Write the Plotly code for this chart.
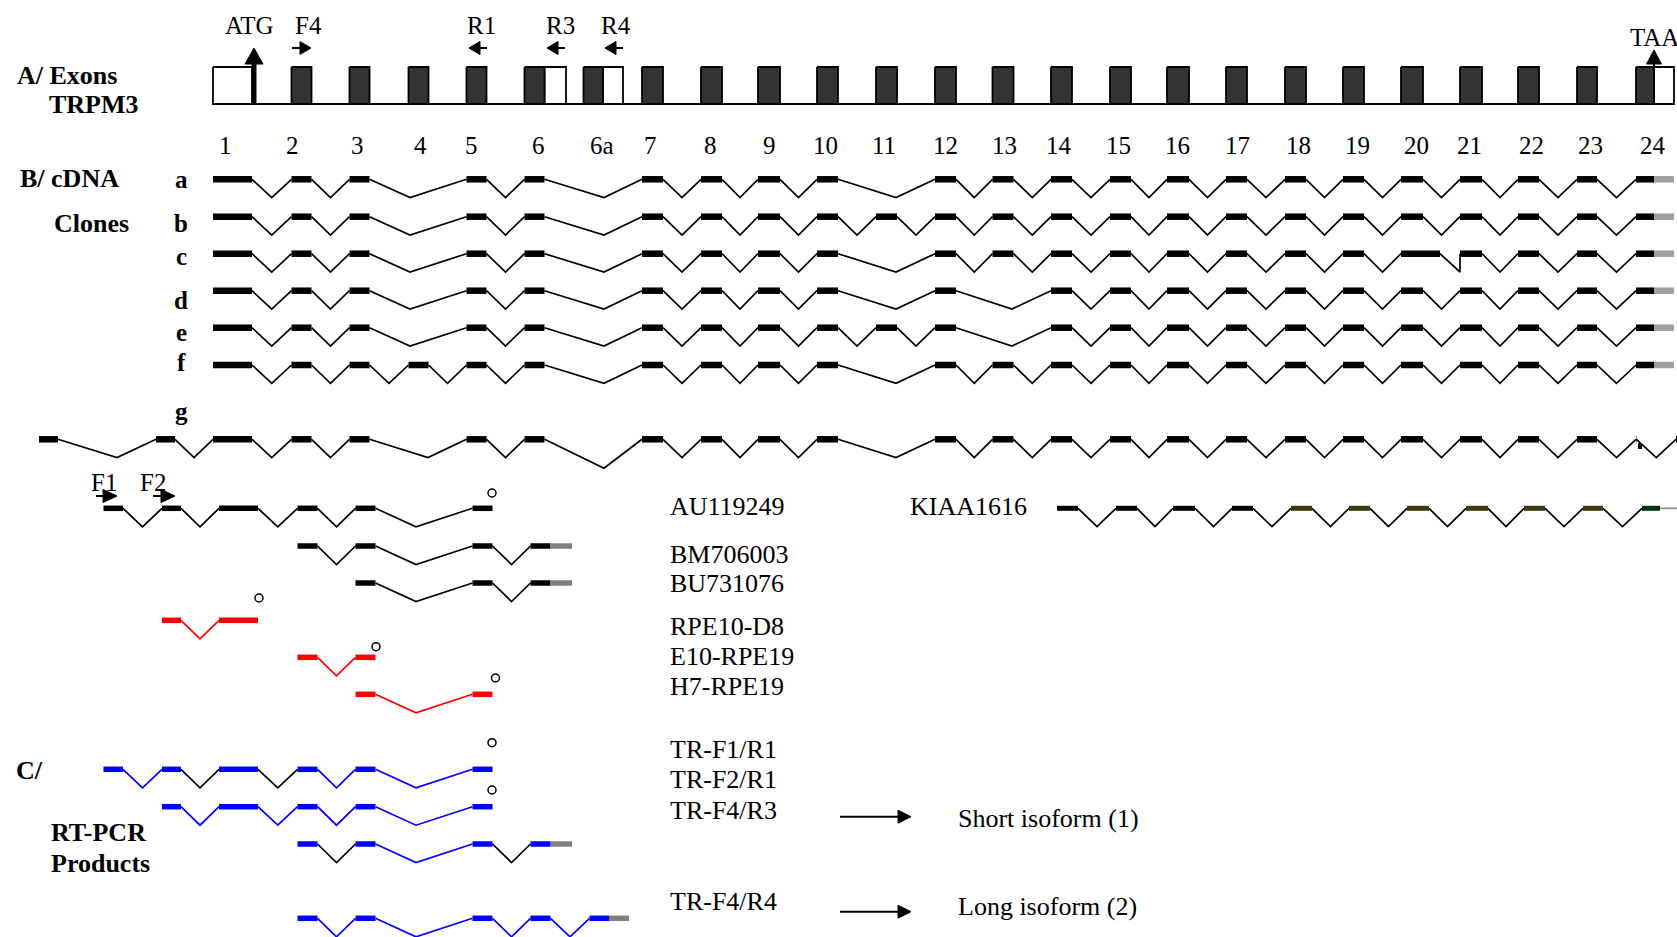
import plotly.graph_objects as go

FONT = "Liberation Serif, Times New Roman, serif"

# ---------------- Section A: exon map (positions along the gene, px) ----------------
EXON_NAMES = ["1", "2", "3", "4", "5", "6", "6a", "7", "8", "9", "10", "11", "12", "13",
              "14", "15", "16", "17", "18", "19", "20", "21", "22", "23", "24"]
EXON_START = [213, 291.5, 349.5, 408.5, 466.5, 524.5, 583.5, 642, 701, 758, 817, 876, 935,
              992.5, 1051, 1110, 1167, 1226, 1285, 1343, 1401, 1460, 1518, 1577, 1636]
CODING_END = [213, 311.5, 369.5, 428.5, 486.5, 544.5, 603, 663, 722, 780, 838, 897, 956,
              1013.5, 1072, 1131, 1189, 1247, 1306, 1364, 1423, 1482, 1539, 1597, 1654]
EXON_END = [252, 311.5, 369.5, 428.5, 486.5, 566, 623, 663, 722, 780, 838, 897, 956,
            1013.5, 1072, 1131, 1189, 1247, 1306, 1364, 1423, 1482, 1539, 1597, 1674]
EXON_LABEL_X = [225, 292, 357, 420, 471, 538, 602, 650, 710, 769, 825, 884, 945, 1004,
                1059, 1118, 1177, 1237, 1298, 1357, 1416, 1469, 1531, 1590, 1653]
BOX_TOP, BOX_BOTTOM, EXON_LABEL_Y = 67, 104, 145

# extra exons (upstream exons / variants)
EXTRA_NAMES = ["U1", "U2", "U3", "20x", "24g", "X"]
EXTRA_START = [39, 97.5, 156, 1401, 1636, 1676]
EXTRA_END = [58, 117, 175, 1440, 1636.5, 1720]

# primers on exon map
PRIMER_NAMES = ["F4", "R1", "R3", "R4"]
PRIMER_TAIL_X = [292, 487, 565, 623]
PRIMER_TIP_X = [311, 469, 547, 605]
PRIMER_LABEL_X = [308, 481, 560, 616]
PRIMER_Y, PRIMER_LABEL_Y = 48, 25
ATG_X, TAA_X = 254, 1654

# ---------------- Section B: cDNA clones ----------------
CLONE_NAMES = ["a", "b", "c", "d", "e", "f", "g"]
CLONE_Y = [179.3, 216.7, 253.7, 290.7, 327.7, 365, 439.3]
CLONE_LABEL_Y = [179, 223, 256.5, 300, 332.5, 362, 411.5]
CLONE_EXONS = [
    ["1", "2", "3", "5", "6", "7", "8", "9", "10", "12", "13", "14", "15", "16", "17", "18", "19", "20", "21", "22", "23", "24"],
    ["1", "2", "3", "5", "6", "7", "8", "9", "10", "11", "12", "13", "14", "15", "16", "17", "18", "19", "20", "21", "22", "23", "24"],
    ["1", "2", "3", "5", "6", "7", "8", "9", "10", "12", "13", "14", "15", "16", "17", "18", "19", "20x", "21", "22", "23", "24"],
    ["1", "2", "3", "5", "6", "7", "8", "9", "10", "12", "14", "15", "16", "17", "18", "19", "20", "21", "22", "23", "24"],
    ["1", "2", "3", "5", "6", "7", "8", "9", "10", "11", "12", "14", "15", "16", "17", "18", "19", "20", "21", "22", "23", "24"],
    ["1", "2", "3", "4", "5", "6", "7", "8", "9", "10", "12", "13", "14", "15", "16", "17", "18", "19", "20", "21", "22", "23", "24"],
    ["U1", "U3", "1", "2", "3", "5", "6", "7", "8", "9", "10", "12", "13", "14", "15", "16", "17", "18", "19", "20", "21", "22", "23", "24g", "X"],
]
CLONE_TAIL = [True, True, True, True, True, True, False]
# where the skip-introns dip (gene coordinates)
SKIP_VALLEY_X = {("3", "5"): 410, ("6", "7"): 604, ("10", "12"): 896, ("12", "14"): 1012,
                 ("U1", "U3"): 117}
VALLEY_X_OVERRIDE = {("c", "20x"): 1460, ("g", "3"): 428}
VALLEY_DEPTH_OVERRIDE = {("g", "6"): 29}
G_MARK_X, G_MARK_Y = [1640, 1640], [443, 449]

# ---------------- ESTs, clones and RT-PCR products ----------------
LOWER_SHIFT = 6
LOWER_NAMES = ["AU119249", "BM706003", "BU731076", "RPE10-D8", "E10-RPE19", "H7-RPE19",
               "TR-F1/R1", "TR-F2/R1", "TR-F4/R3", "TR-F4/R4"]
LOWER_Y = [508.3, 546, 583, 620.3, 657.3, 694.3, 769.3, 806.7, 844, 918.3]
LOWER_LABEL_Y = [506.5, 554.5, 583.5, 626, 656, 686.5, 749.5, 779.5, 810, 901.5]
LOWER_EXONS = [
    ["U2", "U3", "1", "2", "3", "5"],
    ["2", "3", "5", "6"],
    ["3", "5", "6"],
    ["U3", "1"],
    ["2", "3"],
    ["3", "5"],
    ["U2", "U3", "1", "2", "3", "5"],
    ["U3", "1", "2", "3", "5"],
    ["2", "3", "5", "6"],
    ["2", "3", "5", "6", "6a"],
]
LOWER_COLOR = ["#000000", "#000000", "#000000", "#ff0000", "#ff0000", "#ff0000",
               "#0000ff", "#0000ff", "#0000ff", "#0000ff"]
LOWER_INTRON_COLORS = [
    None, None, None, None, None, None,
    ["#0000ff", "#000000", "#000000", "#0000ff", "#0000ff"],
    None,
    ["#000000", "#0000ff", "#000000"],
    None,
]
LOWER_TAIL = [False, True, True, False, False, False, False, False, True, True]
LABEL_X = 668
CIRCLE_X = [492, 259, 376, 495.5, 492, 492]
CIRCLE_Y = [493, 598, 646.7, 678, 742.7, 790]

# lower primers
LOW_PRIMERS = ["F1", "F2"]
LOW_PRIMER_TAIL_X = [96, 153]
LOW_PRIMER_TIP_X = [117, 175]
LOW_PRIMER_LABEL_X = [104, 153]
LOW_PRIMER_Y, LOW_PRIMER_LABEL_Y = 496, 482

# KIAA1616
KIAA_EXONS = ["14", "15", "16", "17", "18", "19", "20", "21", "22", "23", "24"]
KIAA_COLORS = ["#000000"] * 4 + ["#3b3a0c"] * 6 + ["#00330f"]
KIAA_Y = 508.3
KIAA_LABEL_X = 908
KIAA_TAIL_END = 1690

# isoform arrows
ISO_Y = [816.7, 911.7]
ISO_TEXT = ["Short isoform (1)", "Long isoform (2)"]
ISO_TEXT_Y = [818, 906]
ISO_ARROW_X0, ISO_ARROW_X1, ISO_TEXT_X = 840, 911, 956

# section titles
SECTION_TEXT = ["A/ Exons", "TRPM3", "B/ cDNA", "Clones", "C/", "RT-PCR", "Products"]
SECTION_X = [15, 47, 18, 52, 14, 49, 49]
SECTION_Y = [75, 104, 178, 223, 770, 832, 863]

# ------------------------------------------------------------------
intron_groups = {}
bar_groups = {}
tri_x, tri_y = [], []


def add_seg(groups, key, xs, ys):
    gx, gy = groups.setdefault(key, ([], []))
    gx.extend(list(xs) + [None])
    gy.extend(list(ys) + [None])


def exon_span(name):
    if name in EXTRA_NAMES:
        i = EXTRA_NAMES.index(name)
        return EXTRA_START[i], EXTRA_END[i]
    i = EXON_NAMES.index(name)
    if name == "1":
        return EXON_START[i], EXON_END[i]
    return EXON_START[i], CODING_END[i]


def draw_transcript(row, exons, y, shift, bar_colors, intron_colors, bar_w, depth,
                    tail=False, tail_color="#999999"):
    spans = [exon_span(e) for e in exons]
    for k in range(len(spans) - 1):
        x0 = spans[k][1] + shift
        x1 = spans[k + 1][0] + shift
        key = (row, exons[k])
        if key in VALLEY_X_OVERRIDE:
            xm = VALLEY_X_OVERRIDE[key]
        elif (exons[k], exons[k + 1]) in SKIP_VALLEY_X:
            xm = SKIP_VALLEY_X[(exons[k], exons[k + 1])] + shift
        else:
            xm = (x0 + x1) / 2
        d = VALLEY_DEPTH_OVERRIDE.get(key, depth)
        add_seg(intron_groups, (intron_colors[k], 1.7), [x0, xm, x1], [y, y + d, y])
    for k, (s, e) in enumerate(spans):
        add_seg(bar_groups, (bar_colors[k], bar_w), [s + shift, e + shift], [y, y])
    if tail:
        i = EXON_NAMES.index(exons[-1])
        add_seg(bar_groups, (tail_color, bar_w), [CODING_END[i] + shift, EXON_END[i] + shift], [y, y])


def add_triangle(pts):
    for px, py in pts + [pts[0]]:
        tri_x.append(px)
        tri_y.append(py)
    tri_x.append(None)
    tri_y.append(None)


fig = go.Figure()
annotations = []


def text(t, x, y, size, bold=False, anchor="left", color="#000000"):
    annotations.append(dict(
        x=x, y=y, xref="x", yref="y", text=("<b>%s</b>" % t) if bold else t,
        showarrow=False, xanchor=anchor, yanchor="middle",
        font=dict(family=FONT, size=size, color=color)))


# ---- Section A ----
fig.add_trace(go.Scatter(x=[EXON_START[0], EXON_END[-1]], y=[BOX_BOTTOM, BOX_BOTTOM], mode="lines",
                         line=dict(color="#000000", width=2.2), hoverinfo="skip"))
ox, oy, dx, dy = [], [], [], []
for i, n in enumerate(EXON_NAMES):
    if CODING_END[i] > EXON_START[i]:
        s, e = EXON_START[i], CODING_END[i]
        dx += [s, e, e, s, s, None]
        dy += [BOX_TOP, BOX_TOP, BOX_BOTTOM, BOX_BOTTOM, BOX_TOP, None]
    if EXON_END[i] > CODING_END[i]:
        s, e = CODING_END[i], EXON_END[i]
        ox += [s, e, e, s, s, None]
        oy += [BOX_TOP, BOX_TOP, BOX_BOTTOM, BOX_BOTTOM, BOX_TOP, None]
    text(n, EXON_LABEL_X[i], EXON_LABEL_Y, 25, anchor="center")
fig.add_trace(go.Scatter(x=ox, y=oy, mode="lines", fill="toself", fillcolor="#ffffff",
                         line=dict(color="#000000", width=1.8), hoverinfo="skip"))
fig.add_trace(go.Scatter(x=dx, y=dy, mode="lines", fill="toself", fillcolor="#333333",
                         line=dict(color="#000000", width=1.8), hoverinfo="skip"))

# ATG / TAA arrows
fig.add_trace(go.Scatter(x=[ATG_X, ATG_X], y=[BOX_BOTTOM, 62], mode="lines",
                         line=dict(color="#000000", width=5), hoverinfo="skip"))
add_triangle([(ATG_X - 9, 64), (ATG_X + 9, 64), (ATG_X, 48)])
fig.add_trace(go.Scatter(x=[TAA_X, TAA_X], y=[BOX_BOTTOM, 62], mode="lines",
                         line=dict(color="#000000", width=2), hoverinfo="skip"))
add_triangle([(TAA_X - 7.5, 64), (TAA_X + 7.5, 64), (TAA_X, 50)])
text("ATG", 249, PRIMER_LABEL_Y, 25, anchor="center")
text("TAA", 1628, 37, 25, anchor="left")

prim_x, prim_y = [], []
for i, n in enumerate(PRIMER_NAMES):
    tail, tip = PRIMER_TAIL_X[i], PRIMER_TIP_X[i]
    base = tip - 11 if tip > tail else tip + 11
    prim_x += [tail, base, None]
    prim_y += [PRIMER_Y, PRIMER_Y, None]
    add_triangle([(base, PRIMER_Y - 6.5), (base, PRIMER_Y + 6.5), (tip, PRIMER_Y)])
    text(n, PRIMER_LABEL_X[i], PRIMER_LABEL_Y, 25, anchor="center")
for i, n in enumerate(LOW_PRIMERS):
    tail, tip = LOW_PRIMER_TAIL_X[i], LOW_PRIMER_TIP_X[i]
    base = tip - 14
    prim_x += [tail, base, None]
    prim_y += [LOW_PRIMER_Y, LOW_PRIMER_Y, None]
    add_triangle([(base, LOW_PRIMER_Y - 6.5), (base, LOW_PRIMER_Y + 6.5), (tip, LOW_PRIMER_Y)])
    text(n, LOW_PRIMER_LABEL_X[i], LOW_PRIMER_LABEL_Y, 25, anchor="center")

# ---- Section B ----
for r, row in enumerate(CLONE_NAMES):
    ex = CLONE_EXONS[r]
    draw_transcript(row, ex, CLONE_Y[r], 0, ["#000000"] * len(ex), ["#000000"] * (len(ex) - 1),
                    6.5, 18.3, tail=CLONE_TAIL[r], tail_color="#a0a0a0")
    text(row, 181, CLONE_LABEL_Y[r], 25, bold=True, anchor="center")
add_seg(bar_groups, ("#000000", 4), G_MARK_X, G_MARK_Y)

# ---- ESTs / RT-PCR ----
for r, name in enumerate(LOWER_NAMES):
    ex = LOWER_EXONS[r]
    ic = LOWER_INTRON_COLORS[r] or [LOWER_COLOR[r]] * (len(ex) - 1)
    draw_transcript(name, ex, LOWER_Y[r], LOWER_SHIFT, [LOWER_COLOR[r]] * len(ex), ic,
                    5.5, 18.5, tail=LOWER_TAIL[r], tail_color="#808080")
    text(name, LABEL_X, LOWER_LABEL_Y[r], 26)

draw_transcript("KIAA", KIAA_EXONS, KIAA_Y, LOWER_SHIFT, KIAA_COLORS,
                ["#000000"] * (len(KIAA_EXONS) - 1), 5, 18.3)
i24 = EXON_NAMES.index(KIAA_EXONS[-1])
add_seg(intron_groups, ("#999999", 2), [CODING_END[i24] + LOWER_SHIFT, KIAA_TAIL_END], [KIAA_Y, KIAA_Y])
text("KIAA1616", KIAA_LABEL_X, 506.5, 26)

# isoform arrows
for k in range(2):
    prim_x += [ISO_ARROW_X0, ISO_ARROW_X1 - 12, None]
    prim_y += [ISO_Y[k], ISO_Y[k], None]
    add_triangle([(ISO_ARROW_X1 - 13, ISO_Y[k] - 6.5), (ISO_ARROW_X1 - 13, ISO_Y[k] + 6.5),
                  (ISO_ARROW_X1, ISO_Y[k])])
    text(ISO_TEXT[k], ISO_TEXT_X, ISO_TEXT_Y[k], 26)

# section titles
for t, x, y in zip(SECTION_TEXT, SECTION_X, SECTION_Y):
    text(t, x, y, 26, bold=True)

# ---- emit traces ----
for (color, w), (xs, ys) in intron_groups.items():
    fig.add_trace(go.Scatter(x=xs, y=ys, mode="lines", line=dict(color=color, width=w),
                             hoverinfo="skip"))
for (color, w), (xs, ys) in bar_groups.items():
    fig.add_trace(go.Scatter(x=xs, y=ys, mode="lines", line=dict(color=color, width=w),
                             hoverinfo="skip"))
fig.add_trace(go.Scatter(x=prim_x, y=prim_y, mode="lines", line=dict(color="#000000", width=2),
                         hoverinfo="skip"))
fig.add_trace(go.Scatter(x=tri_x, y=tri_y, mode="lines", fill="toself", fillcolor="#000000",
                         line=dict(color="#000000", width=1), hoverinfo="skip"))
fig.add_trace(go.Scatter(x=CIRCLE_X, y=CIRCLE_Y, mode="markers",
                         marker=dict(symbol="circle-open", size=8, color="#000000",
                                     line=dict(width=1.5)), hoverinfo="skip"))

fig.update_layout(
    width=1677, height=937, margin=dict(l=0, r=0, t=0, b=0),
    paper_bgcolor="#ffffff", plot_bgcolor="#ffffff", showlegend=False,
    hovermode=False, annotations=annotations,
    xaxis=dict(range=[0, 1677], visible=False, fixedrange=True),
    yaxis=dict(range=[937, 0], visible=False, fixedrange=True),
)
fig.write_html("out.html", config={"displayModeBar": False, "staticPlot": True},
               post_script="document.body.style.margin='0';")
